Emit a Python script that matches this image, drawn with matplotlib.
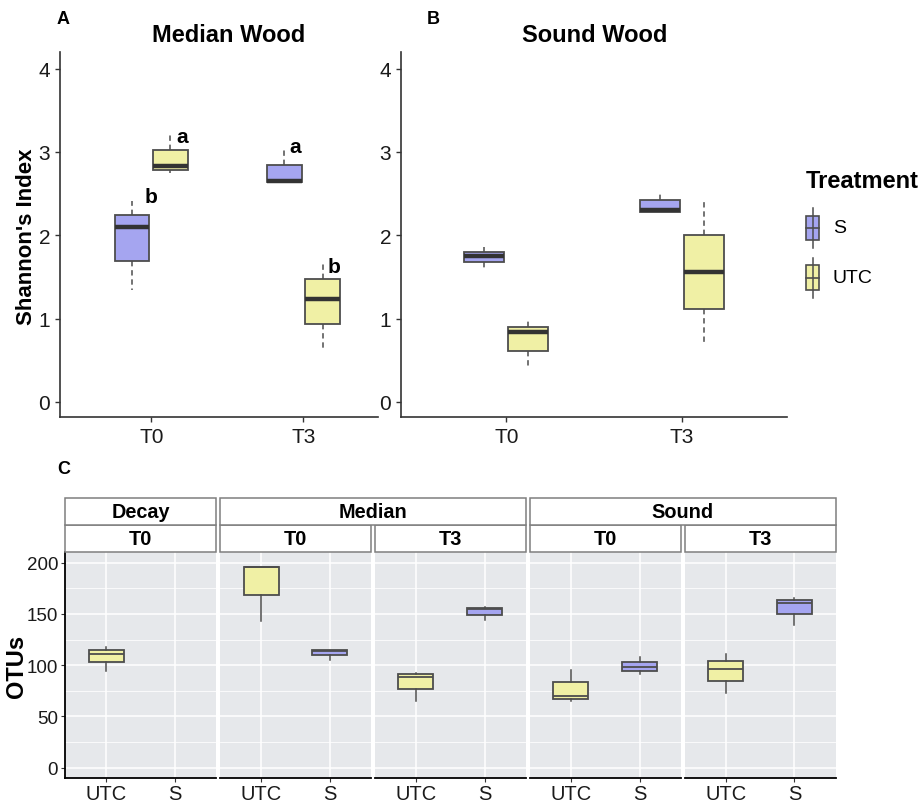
import matplotlib
matplotlib.use('Agg')
import matplotlib.pyplot as plt
from matplotlib.patches import Rectangle
from matplotlib.lines import Line2D

plt.rcParams['font.family'] = ['Liberation Sans', 'DejaVu Sans']

W, H = 923, 804

# colours
col_s = '#A5A5F0'
col_utc = '#F0F0A5'
edge = '#4D4D4D'
dark = '#333333'
panel_bg = '#E6E8EB'

# ---- Shannon index, boxplot stats: (whislo, q1, med, q3, whishi) ----
times = ['T0', 'T3']
treatments = ['S', 'UTC']

median_s = [(1.34, 1.69, 2.10, 2.25, 2.41), (2.64, 2.64, 2.65, 2.85, 3.04)]
median_utc = [(2.75, 2.79, 2.83, 3.03, 3.23), (0.64, 0.94, 1.235, 1.48, 1.69)]
sound_s = [(1.61, 1.675, 1.75, 1.80, 1.855), (2.28, 2.28, 2.30, 2.43, 2.51)]
sound_utc = [(0.40, 0.615, 0.84, 0.90, 0.975), (0.68, 1.12, 1.56, 2.00, 2.44)]

# significance letters for the median wood panel (S T0, UTC T0, S T3, UTC T3)
letters = ['b', 'a', 'a', 'b']
letter_y = [2.47, 3.18, 3.06, 1.62]
letter_dx = [0.125, 0.075, 0.075, 0.075]

# ---- OTU counts per wood type / time ----
wood = ['Decay', 'Median', 'Median', 'Sound', 'Sound']
wood_time = ['T0', 'T0', 'T3', 'T0', 'T3']
otu_utc = [(94.1, 102.6, 111.0, 114.9, 117.8),
           (142.8, 168.8, 195.5, 196.1, 196.1),
           (65.2, 77.2, 88.3, 90.9, 92.5),
           (64.9, 67.2, 70.4, 83.1, 95.4),
           (72.4, 84.1, 96.4, 103.8, 110.7)]
otu_s = [None,
         (105.5, 109.7, 114.0, 115.2, 115.2),
         (143.8, 149.0, 155.0, 155.8, 156.5),
         (90.9, 94.1, 98.0, 102.9, 108.1),
         (138.9, 149.6, 161.0, 163.6, 165.6)]
otu_groups = ['UTC', 'S']


def px(l, t, r, b):
    return [l / W, 1 - b / H, (r - l) / W, (b - t) / H]


def to_stats(rows):
    out = []
    for lo, q1, med, q3, hi in rows:
        out.append(dict(whislo=lo, q1=q1, med=med, q3=q3, whishi=hi, fliers=[]))
    return out


def draw_boxes(ax, rows, positions, width, color, dashed, med_lw):
    ls = (0, (3.5, 2.5)) if dashed else '-'
    ax.bxp(to_stats(rows), positions=positions, widths=width,
           patch_artist=True, showcaps=False, showfliers=False,
           manage_ticks=False,
           boxprops=dict(facecolor=color, edgecolor=edge, linewidth=1.3),
           medianprops=dict(color=dark if dashed else edge, linewidth=med_lw,
                            solid_capstyle='butt'),
           whiskerprops=dict(color=edge, linestyle=ls, linewidth=1.1))


def style_top(ax, xlim):
    ax.set_xlim(*xlim)
    ax.set_ylim(-0.18, 4.2)
    ax.set_xticks([1, 2])
    ax.set_xticklabels(times)
    ax.set_yticks([0, 1, 2, 3, 4])
    for s in ['top', 'right']:
        ax.spines[s].set_visible(False)
    for s in ['left', 'bottom']:
        ax.spines[s].set_color(dark)
        ax.spines[s].set_linewidth(1.2)
    ax.tick_params(axis='both', colors=dark, length=3.5, width=1, labelsize=15,
                   labelcolor='#1a1a1a')
    ax.set_facecolor('none')


fig = plt.figure(figsize=(W / 100, H / 100), dpi=100)
fig.patch.set_facecolor('white')

off, bw = 0.126, 0.227
x = [1, 2]

# ---- Panel A: median wood ----
axA = fig.add_axes(px(60, 53, 378, 418))
draw_boxes(axA, median_s, [p - off for p in x], bw, col_s, True, 3.2)
draw_boxes(axA, median_utc, [p + off for p in x], bw, col_utc, True, 3.2)
style_top(axA, (0.4, 2.49))
fig.text(27 / W, 1 - 237 / H, "Shannon's Index", fontsize=16, fontweight='bold',
         rotation=90, ha='center', va='center')
letter_x = [1 - off, 1 + off, 2 - off, 2 + off]
for lx, dx, ly, t in zip(letter_x, letter_dx, letter_y, letters):
    axA.text(lx + dx, ly, t, fontsize=15, fontweight='bold', ha='center', va='center')
fig.text(229 / W, 1 - 35 / H, 'Median Wood', fontsize=17, fontweight='bold',
         ha='center', va='center')
fig.text(63 / W, 1 - 20 / H, 'A', fontsize=13, fontweight='bold', ha='center', va='center')

# ---- Panel B: sound wood ----
axB = fig.add_axes(px(401, 53, 787, 418))
draw_boxes(axB, sound_s, [p - off for p in x], bw, col_s, True, 3.2)
draw_boxes(axB, sound_utc, [p + off for p in x], bw, col_utc, True, 3.2)
style_top(axB, (0.4, 2.6))
fig.text(595 / W, 1 - 35 / H, 'Sound Wood', fontsize=17, fontweight='bold',
         ha='center', va='center')
fig.text(433 / W, 1 - 20 / H, 'B', fontsize=13, fontweight='bold', ha='center', va='center')

# ---- legend ----
fig.text(806 / W, 1 - 182 / H, 'Treatment', fontsize=17, fontweight='bold',
         ha='left', va='center')
for name, color, cy in [('S', col_s, 229), ('UTC', col_utc, 278.5)]:
    cx = 812.7
    fig.add_artist(Line2D([cx / W, cx / W], [1 - (cy - 20) / H, 1 - (cy + 20) / H],
                          color=edge, lw=1.1))
    fig.add_artist(Rectangle(((cx - 6.7) / W, 1 - (cy + 12.3) / H), 13.4 / W, 24.6 / H,
                             facecolor=color, edgecolor=edge, lw=1.2))
    fig.add_artist(Line2D([(cx - 6.7) / W, (cx + 6.7) / W], [1 - cy / H, 1 - cy / H],
                          color=edge, lw=1.2))
    fig.text(833 / W, 1 - cy / H, name, fontsize=14, ha='left', va='center')

# ---- Panel C: OTUs ----
fig.text(64 / W, 1 - 470 / H, 'C', fontsize=13, fontweight='bold', ha='center', va='center')
fig.text(16 / W, 1 - 666 / H, 'OTUs', fontsize=17, fontweight='bold',
         rotation=90, ha='center', va='center')
p_top, p_bot = 553.3, 779
pw, gap, x0 = 151, 3.9, 65
lefts = [x0 + i * (pw + gap) for i in range(len(wood))]
strip_edge = '#7F7F7F'

for i, left in enumerate(lefts):
    ax = fig.add_axes(px(left, p_top, left + pw, p_bot))
    ax.set_facecolor(panel_bg)
    ax.set_xlim(0.4, 2.6)
    ax.set_ylim(-10, 210)
    ax.set_yticks([0, 50, 100, 150, 200])
    ax.set_yticks([25, 75, 125, 175], minor=True)
    ax.set_xticks([1, 2])
    ax.set_xticklabels(otu_groups)
    ax.grid(True, which='major', color='white', lw=1.1)
    ax.grid(True, which='minor', axis='y', color='white', lw=0.55)
    ax.set_axisbelow(True)
    draw_boxes(ax, [otu_utc[i]], [1], 0.51, col_utc, False, 1.3)
    if otu_s[i] is not None:
        draw_boxes(ax, [otu_s[i]], [2], 0.51, col_s, False, 1.3)
    for s in ['top', 'right']:
        ax.spines[s].set_visible(False)
    ax.spines['bottom'].set_color('black')
    ax.spines['bottom'].set_linewidth(1.3)
    ax.tick_params(axis='x', length=3, color=dark, labelsize=14.5, labelcolor='#1a1a1a', pad=1)
    ax.tick_params(axis='y', which='minor', length=0)
    if i == 0:
        ax.spines['left'].set_color('black')
        ax.spines['left'].set_linewidth(1.3)
        ax.tick_params(axis='y', length=3, color=dark, labelsize=13.5, labelcolor='#1a1a1a', pad=2)
    else:
        ax.spines['left'].set_visible(False)
        ax.tick_params(axis='y', which='both', length=0, labelleft=False)

    # inner strip (time)
    fig.add_artist(Rectangle((left / W, 1 - 552.7 / H), pw / W, 26.7 / H,
                             facecolor='white', edgecolor=strip_edge, lw=1.1))
    fig.text((left + pw / 2) / W, 1 - 539.5 / H, wood_time[i], fontsize=14.3,
             fontweight='bold', ha='center', va='center')

# outer strips (wood type), spanning consecutive panels with the same label
i = 0
while i < len(wood):
    j = i
    while j + 1 < len(wood) and wood[j + 1] == wood[i]:
        j += 1
    l, r = lefts[i], lefts[j] + pw
    fig.add_artist(Rectangle((l / W, 1 - 526 / H), (r - l) / W, 26.7 / H,
                             facecolor='white', edgecolor=strip_edge, lw=1.1))
    fig.text((l + r) / 2 / W, 1 - 513 / H, wood[i], fontsize=14.3, fontweight='bold',
             ha='center', va='center')
    i = j + 1

fig.savefig('out.png', dpi=100, facecolor='white')
